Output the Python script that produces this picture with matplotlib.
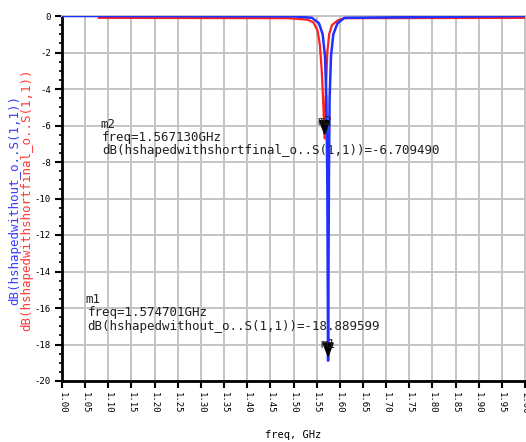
import numpy as np
import matplotlib
matplotlib.use("Agg")
import matplotlib.pyplot as plt

plt.rcParams['axes.unicode_minus'] = False

# values (freq in GHz, S11 in dB)
freq_blue = [1.00, 1.50, 1.540, 1.555, 1.563, 1.568, 1.571, 1.573, 1.5747,
             1.5765, 1.578, 1.581, 1.586, 1.595, 1.610, 2.00]
db_blue = [0.0, -0.02, -0.10, -0.40, -1.0, -2.2, -4.5, -9.0, -18.89,
           -9.0, -4.5, -2.2, -1.0, -0.40, -0.10, 0.0]

freq_red = [1.08, 1.49, 1.530, 1.543, 1.552, 1.557, 1.561, 1.564, 1.56713,
            1.570, 1.573, 1.577, 1.583, 1.595, 1.610, 2.00]
db_red = [-0.10, -0.12, -0.20, -0.35, -0.8, -1.6, -3.0, -4.6, -6.709,
          -4.0, -2.0, -1.0, -0.5, -0.25, -0.12, -0.10]

xticks = np.round(np.arange(1.0, 2.0001, 0.05), 2)
xtick_labels = ["%.2f" % v for v in xticks]
yticks = list(range(-20, 1, 2))

m1 = (1.574701, -18.889599)
m2 = (1.567130, -6.709490)

fig = plt.figure(figsize=(5.26, 4.42), dpi=100)
ax = fig.add_axes([62 / 526, 61 / 442, 463 / 526, 365 / 442])

ax.plot(freq_red, db_red, color='#ff2020', lw=1.6, zorder=3)
ax.plot(freq_blue, db_blue, color='#2030ff', lw=1.8, zorder=4)

ax.set_xlim(1.0, 2.0)
ax.set_ylim(-20, 0)
ax.set_xticks(xticks)
ax.set_xticklabels(xtick_labels, rotation=-90, fontsize=6.5, family='DejaVu Sans Mono')
ax.set_yticks(yticks)
ax.set_yticklabels([str(v) for v in yticks], fontsize=6.5, family='DejaVu Sans Mono')
ax.set_yticks(np.arange(-20, 0.01, 0.5), minor=True)
ax.tick_params(axis='both', which='major', direction='out', length=5, width=1.5, color='k', pad=3)
ax.tick_params(axis='y', which='minor', direction='out', length=2, width=1.2, color='k')
ax.grid(True, which='major', color='#c4c4c4', lw=1.4, zorder=0)

for s in ['left', 'bottom']:
    ax.spines[s].set_linewidth(2)
    ax.spines[s].set_color('k')
for s in ['top', 'right']:
    ax.spines[s].set_color('#c4c4c4')
    ax.spines[s].set_linewidth(1.4)

ax.set_xlabel('freq, GHz', fontsize=7.5, family='DejaVu Sans Mono', labelpad=12)

# markers
mono = dict(family='DejaVu Sans Mono', fontsize=9, color='#202020')
for name, (f, v) in [('m2', m2), ('m1', m1)]:
    ax.annotate('', xy=(f, v), xytext=(f, v + 0.9),
                arrowprops=dict(arrowstyle='-|>,head_length=0.9,head_width=0.35',
                                color='k', lw=1.2), zorder=6)
    ax.text(f, v + 0.55, name, ha='center', va='bottom', zorder=7, **mono)

ax.text(1.082, -5.97, 'm2', ha='left', va='center', **mono)
ax.text(1.087, -6.65, 'freq=1.567130GHz', ha='left', va='center', **mono)
ax.text(1.087, -7.36, 'dB(hshapedwithshortfinal_o..S(1,1))=-6.709490',
        ha='left', va='center', **mono)

ax.text(1.050, -15.56, 'm1', ha='left', va='center', **mono)
ax.text(1.056, -16.27, 'freq=1.574701GHz', ha='left', va='center', **mono)
ax.text(1.054, -16.99, 'dB(hshapedwithout_o..S(1,1))=-18.889599',
        ha='left', va='center', **mono)

# y axis labels (two traces)
fig.text(15 / 526, 1 - 200 / 442, 'dB(hshapedwithout_o..S(1,1))', rotation=90,
         ha='center', va='center', color='#3a3aff', family='DejaVu Sans Mono', fontsize=9)
fig.text(27 / 526, 1 - 200 / 442, 'dB(hshapedwithshortfinal_o..S(1,1))', rotation=90,
         ha='center', va='center', color='#ff3a3a', family='DejaVu Sans Mono', fontsize=9)

fig.savefig('out.png', dpi=100)
